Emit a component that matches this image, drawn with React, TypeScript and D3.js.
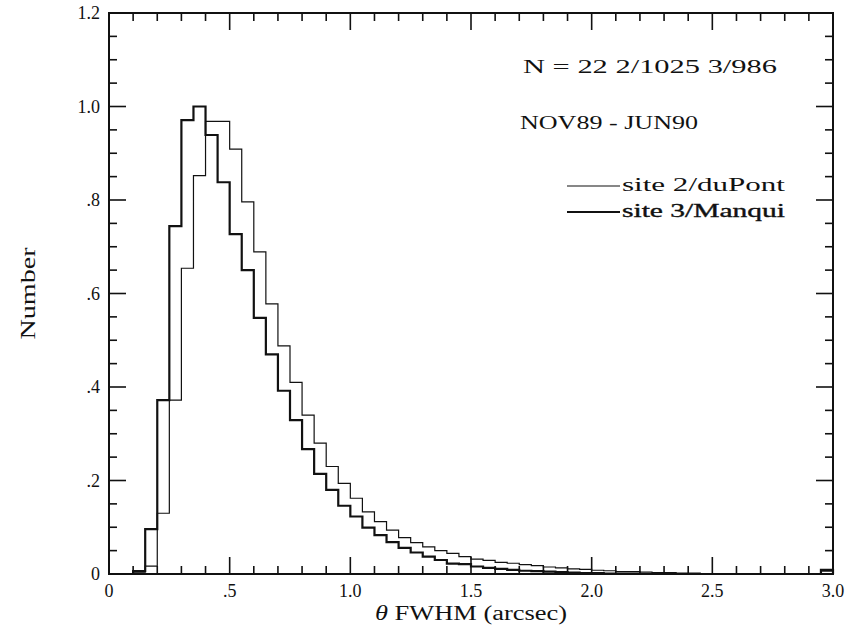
import React, { useEffect } from 'react';
import * as d3 from 'd3';

// bin left edges (arcsec), width 0.05
const binStarts = [
  0.10, 0.15, 0.20, 0.25, 0.30, 0.35, 0.40, 0.45, 0.50, 0.55,
  0.60, 0.65, 0.70, 0.75, 0.80, 0.85, 0.90, 0.95, 1.00, 1.05,
  1.10, 1.15, 1.20, 1.25, 1.30, 1.35, 1.40, 1.45, 1.50, 1.55,
  1.60, 1.65, 1.70, 1.75, 1.80, 1.85, 1.90, 1.95, 2.00, 2.05,
  2.10, 2.15, 2.20, 2.25, 2.30, 2.35, 2.40, 2.45, 2.50, 2.55,
  2.60, 2.65, 2.70, 2.75, 2.80, 2.85, 2.90, 2.95,
];
const binWidth = 0.05;

// site 2 / duPont (thin line)
const site2 = [
  0.004, 0.017, 0.130, 0.372, 0.654, 0.852, 0.968, 0.968, 0.909, 0.796,
  0.689, 0.578, 0.488, 0.410, 0.340, 0.280, 0.230, 0.194, 0.162, 0.133,
  0.112, 0.094, 0.078, 0.067, 0.058, 0.050, 0.044, 0.037, 0.032, 0.029,
  0.025, 0.023, 0.020, 0.018, 0.015, 0.013, 0.011, 0.010, 0.008, 0.007,
  0.005, 0.005, 0.004, 0.003, 0.003, 0.002, 0.002, 0.001, 0.001, 0.001,
  0.001, 0, 0, 0, 0, 0, 0, 0.006,
];

// site 3 / Manqui (thick line)
const site3 = [
  0.006, 0.096, 0.372, 0.744, 0.971, 1.000, 0.939, 0.838, 0.727, 0.650,
  0.548, 0.470, 0.392, 0.329, 0.267, 0.214, 0.180, 0.146, 0.123, 0.099,
  0.083, 0.068, 0.056, 0.046, 0.037, 0.030, 0.022, 0.021, 0.016, 0.013,
  0.011, 0.009, 0.007, 0.006, 0.005, 0.004, 0.003, 0.002, 0.002, 0.001,
  0.001, 0.001, 0, 0, 0, 0, 0, 0, 0, 0,
  0, 0, 0, 0, 0, 0, 0, 0.009,
];

const xMajor = [0, 0.5, 1.0, 1.5, 2.0, 2.5, 3.0];
const xLabels = ['0', '.5', '1.0', '1.5', '2.0', '2.5', '3.0'];
const yMajor = [0, 0.2, 0.4, 0.6, 0.8, 1.0, 1.2];
const yLabels = ['0', '.2', '.4', '.6', '.8', '1.0', '1.2'];

const W = 855;
const H = 631;
const FONT = '"Liberation Serif", "DejaVu Serif", serif';

const App = () => {
  useEffect(() => {
    document.body.style.margin = '0';
  }, []);

  const left = 109, right = 833, top = 13, bottom = 574;
  const x = d3.scaleLinear().domain([0, 3]).range([left, right]);
  const y = d3.scaleLinear().domain([0, 1.2]).range([bottom, top]);

  const xMinor = d3.range(0, 31).map(i => i / 10).filter(v => Math.abs(v * 2 - Math.round(v * 2)) > 1e-6);
  const yMinor = d3.range(0, 25).map(i => i / 20).filter(v => Math.abs(v * 5 - Math.round(v * 5)) > 1e-6);

  const stepPath = (vals: number[]) => {
    const pts: [number, number][] = [[binStarts[0], 0]];
    vals.forEach((v, i) => pts.push([binStarts[i], v]));
    const end = binStarts[binStarts.length - 1] + binWidth;
    pts.push([end, vals[vals.length - 1]]);
    pts.push([end, 0]);
    return d3.line<[number, number]>()
      .x(d => x(d[0]))
      .y(d => y(d[1]))
      .curve(d3.curveStepAfter)(pts) as string;
  };

  const majorLen = 17;
  const minorLen = 8;

  return (
    <svg width={W} height={H} style={{ display: 'block', background: '#fff' }} fontFamily={FONT}>
      <rect x={0} y={0} width={W} height={H} fill="#fff" />

      {/* histograms */}
      <path d={stepPath(site2)} fill="none" stroke="#111" strokeWidth={1.2} />
      <path d={stepPath(site3)} fill="none" stroke="#111" strokeWidth={2.2} />

      {/* frame */}
      <rect x={left} y={top} width={right - left} height={bottom - top} fill="none" stroke="#111" strokeWidth={2} />

      {/* ticks on all four sides, pointing in */}
      <g stroke="#111" strokeWidth={1.6}>
        {xMajor.map(v => (
          <g key={'xM' + v}>
            <line x1={x(v)} x2={x(v)} y1={bottom} y2={bottom - majorLen} />
            <line x1={x(v)} x2={x(v)} y1={top} y2={top + majorLen} />
          </g>
        ))}
        {xMinor.map(v => (
          <g key={'xm' + v}>
            <line x1={x(v)} x2={x(v)} y1={bottom} y2={bottom - minorLen} />
            <line x1={x(v)} x2={x(v)} y1={top} y2={top + minorLen} />
          </g>
        ))}
        {yMajor.map(v => (
          <g key={'yM' + v}>
            <line x1={left} x2={left + majorLen} y1={y(v)} y2={y(v)} />
            <line x1={right} x2={right - majorLen} y1={y(v)} y2={y(v)} />
          </g>
        ))}
        {yMinor.map(v => (
          <g key={'ym' + v}>
            <line x1={left} x2={left + minorLen} y1={y(v)} y2={y(v)} />
            <line x1={right} x2={right - minorLen} y1={y(v)} y2={y(v)} />
          </g>
        ))}
      </g>

      {/* tick labels */}
      <g fontSize={18} fill="#111">
        {xMajor.map((v, i) => (
          <text key={'xl' + v} x={x(v)} y={597} textAnchor="middle">{xLabels[i]}</text>
        ))}
        {yMajor.map((v, i) => (
          <text key={'yl' + v} x={100} y={y(v)} dy="0.35em" textAnchor="end">{yLabels[i]}</text>
        ))}
      </g>

      {/* axis titles */}
      <text x={(left + right) / 2} y={620} textAnchor="middle" fontSize={20} fill="#111"
        textLength={192} lengthAdjust="spacingAndGlyphs">
        <tspan fontStyle="italic">θ</tspan> FWHM (arcsec)
      </text>
      <text transform={`translate(35,${(top + bottom) / 2}) rotate(-90)`} textAnchor="middle"
        fontSize={21} fill="#111" textLength={92} lengthAdjust="spacingAndGlyphs">Number</text>

      {/* annotations */}
      <text x={523} y={73} fontSize={18} fill="#111" textLength={254} lengthAdjust="spacingAndGlyphs">
        N = 22 2/1025 3/986
      </text>
      <text x={520} y={129} fontSize={18} fill="#111" textLength={178} lengthAdjust="spacingAndGlyphs">
        NOV89 - JUN90
      </text>

      {/* legend */}
      <line x1={567} x2={620} y1={186} y2={186} stroke="#111" strokeWidth={1.2} />
      <text x={622} y={191} fontSize={18} fill="#111" textLength={163} lengthAdjust="spacingAndGlyphs">
        site 2/duPont
      </text>
      <line x1={567} x2={620} y1={212} y2={212} stroke="#111" strokeWidth={2} />
      <text x={622} y={217} fontSize={18} fill="#111" stroke="#111" strokeWidth={0.35}
        textLength={163} lengthAdjust="spacingAndGlyphs">
        site 3/Manqui
      </text>
    </svg>
  );
};

export default App;
